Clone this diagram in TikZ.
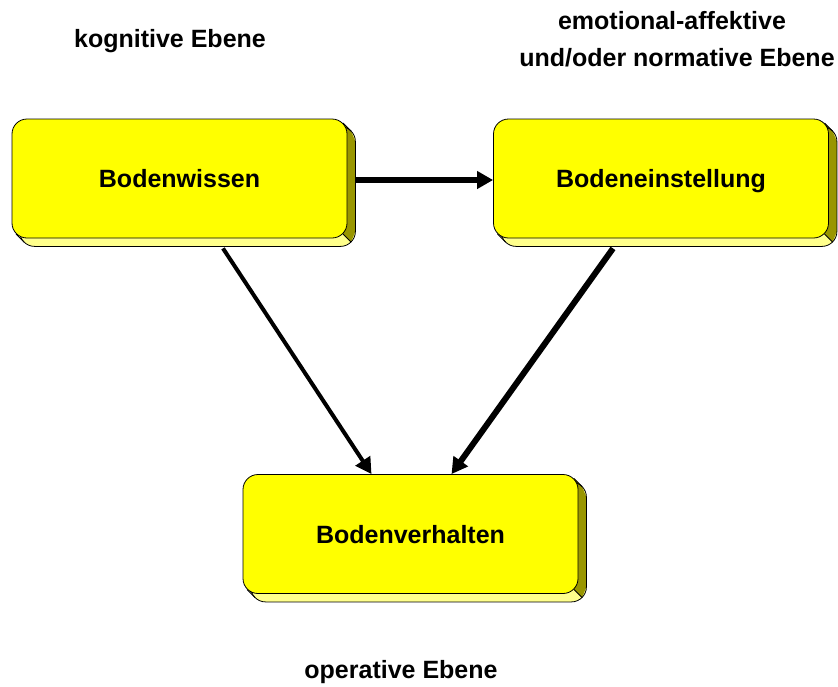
\documentclass[tikz,border=0pt]{standalone}
\usepackage{fontspec}
\setmainfont{Liberation Sans}
\usetikzlibrary{arrows.meta,backgrounds}
\definecolor{facecol}{RGB}{255,255,0}
\definecolor{lowcol}{RGB}{255,255,140}
\definecolor{sidecol}{RGB}{153,150,0}

% raised edge behind a block
\newcommand{\slab}[1]{%
  \begin{scope}[on background layer]
    \fill[lowcol,rounded corners=7.5pt] ([shift={(8,8)}]#1.south west) rectangle ([shift={(8,8)}]#1.north east);
    \fill[sidecol] ([shift={(-4.4,4.4)}]#1.north east) -- ([shift={(3.6,12.4)}]#1.north east)
      -- ([shift={(8,23)}]#1.north east) -- ([shift={(8,-7)}]#1.south east)
      -- ([shift={(3.6,3.6)}]#1.south east) -- ([shift={(-4.4,-4.4)}]#1.south east) -- cycle;
    \draw[rounded corners=7.5pt] ([shift={(8,8)}]#1.south west) rectangle ([shift={(8,8)}]#1.north east);
    \draw ([shift={(-4.4,4.4)}]#1.north east) -- ([shift={(3.6,12.4)}]#1.north east);
    \draw ([shift={(-4.4,-4.4)}]#1.south east) -- ([shift={(3.6,3.6)}]#1.south east);
    \draw ([shift={(4.4,-4.4)}]#1.south west) -- ([shift={(12.4,3.6)}]#1.south west);
  \end{scope}}

\begin{document}
\begin{tikzpicture}[x=0.5pt,y=-0.5pt,
  block/.style={draw, fill=facecol, rounded corners=7.5pt, minimum width=167.5pt,
    minimum height=59.5pt, inner sep=0pt, text height=11pt, text depth=2pt,
    font=\bfseries\fontsize{12.5}{15}\selectfont},
  level/.style={inner sep=0pt, font=\bfseries\fontsize{12.5}{18.5}\selectfont},
  flow/.style={-{Triangle[length=8pt,width=8.5pt]}, line width=2pt}]
  \useasboundingbox (0,0) rectangle (838,686);
  % blocks
  \node[block] (wissen) at (179.5,178.5) {Bodenwissen};
  \node[block] (einst)  at (661,178.5)   {Bodeneinstellung};
  \node[block] (verh)   at (410.5,534)   {Bodenverhalten};
  \slab{wissen}
  \slab{einst}
  \slab{verh}
  % levels
  \node[level] (kog) at (170,41) {kognitive Ebene};
  \node[level, align=center] (emo) at (677,39.5) {emotional-affektive\hspace*{5pt}\\und/oder normative Ebene};
  \node[level] (op) at (401,672) {operative Ebene};
  % arrows
  \draw[flow, line width=3pt] ([shift={(8,1.5)}]wissen.east) -- ([yshift=-0.75pt]einst.west);
  \draw[flow] ([shift={(43.5,10)}]wissen.south) -- ([shift={(-39,0)}]verh.north);
  \draw[flow, line width=3pt] ([shift={(-48,10)}]einst.south) -- ([shift={(41,0)}]verh.north);
\end{tikzpicture}
\end{document}
